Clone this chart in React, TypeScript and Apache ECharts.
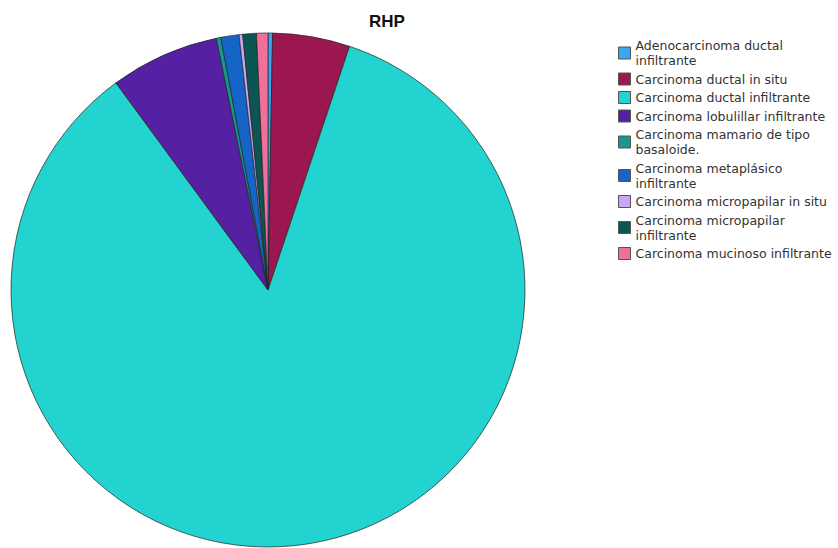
import React, { useEffect, useRef } from "react";
import * as echarts from "echarts";

const categories = [
  "Adenocarcinoma ductal infiltrante",
  "Carcinoma ductal in situ",
  "Carcinoma ductal infiltrante",
  "Carcinoma lobulillar infiltrante",
  "Carcinoma mamario de tipo basaloide.",
  "Carcinoma metaplásico infiltrante",
  "Carcinoma micropapilar in situ",
  "Carcinoma micropapilar infiltrante",
  "Carcinoma mucinoso infiltrante",
];
const legendLabels = [
  "Adenocarcinoma ductal\ninfiltrante",
  "Carcinoma ductal in situ",
  "Carcinoma ductal infiltrante",
  "Carcinoma lobulillar infiltrante",
  "Carcinoma mamario de tipo\nbasaloide.",
  "Carcinoma metaplásico\ninfiltrante",
  "Carcinoma micropapilar in situ",
  "Carcinoma micropapilar\ninfiltrante",
  "Carcinoma mucinoso infiltrante",
];
const values = [1, 17, 297, 24, 1, 4, 0.8, 3, 2.5];
const colors = [
  "#3aa6f2",
  "#9c1750",
  "#22d3cf",
  "#5620a3",
  "#17988f",
  "#1565c8",
  "#c8a8f4",
  "#0b5652",
  "#f0709a",
];
const title = "RHP";

export default function App() {
  const ref = useRef<HTMLDivElement>(null);
  useEffect(() => {
    if (!ref.current) return;
    const chart = echarts.init(ref.current, undefined, { renderer: "svg" });
    chart.setOption({
      animation: false,
      backgroundColor: "#ffffff",
      title: {
        text: title,
        left: 382,
        top: 8,
        textAlign: "center",
        textStyle: {
          fontFamily: "Liberation Sans, Arial, sans-serif",
          fontSize: 17,
          fontWeight: "bold",
          color: "#111",
        },
      },
      legend: {
        orient: "vertical",
        left: 618,
        top: 38,
        padding: 0,
        itemWidth: 12,
        itemHeight: 12,
        itemGap: 3.5,
        icon: "rect",
        selectedMode: false,
        data: categories,
        formatter: (name: string) => legendLabels[categories.indexOf(name)],
        itemStyle: { borderColor: "#555", borderWidth: 1 },
        textStyle: {
          fontFamily: "DejaVu Sans, sans-serif",
          fontSize: 12.5,
          lineHeight: 15,
          color: "#333",
        },
      },
      series: [
        {
          type: "pie",
          center: [268, 290],
          radius: 257,
          startAngle: 90,
          clockwise: true,
          label: { show: false },
          labelLine: { show: false },
          emphasis: { disabled: true },
          itemStyle: { borderColor: "#222", borderWidth: 0.7 },
          data: categories.map((name, i) => ({
            name,
            value: values[i],
            itemStyle: { color: colors[i] },
          })),
        },
      ],
    });
    return () => chart.dispose();
  }, []);
  return (
    <div
      ref={ref}
      style={{ position: "fixed", left: 0, top: 0, width: 838, height: 548 }}
    />
  );
}
